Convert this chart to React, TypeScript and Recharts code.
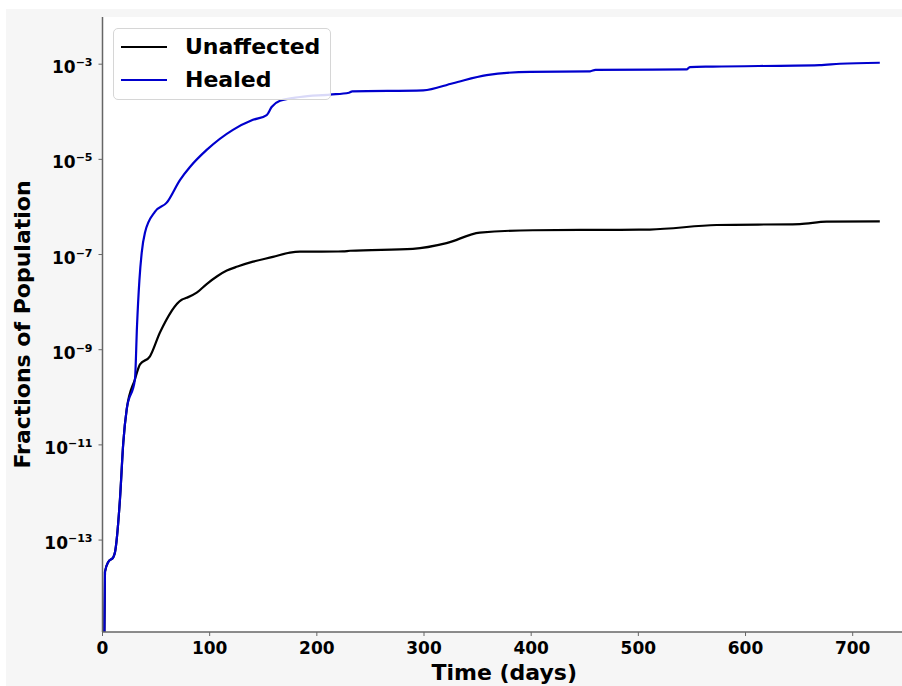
import React from "react";
import { LineChart, Line, XAxis, YAxis, CartesianGrid, Legend } from "recharts";

const sharedDays = [1.3, 2.3, 5.4, 10.1, 11.7, 16.3, 19.4, 22.6, 30.3];
const sharedValues = [1e-16, 2.14e-14, 3.47e-14, 4.37e-14, 5.62e-14, 7.24e-13, 1.12e-11, 5.62e-11, 2.4e-10];

const healedDays = [32.2, 34.4, 36.6, 39.6, 49, 59.9, 72.4, 81.6, 97.2, 121.7, 140.4, 153.2, 157.8, 165.6, 184.2, 212.2, 230, 233, 299.3, 327, 358.4, 398.8, 455, 460, 545, 548, 569.5, 669, 688, 725.3];
const healedValues = [3.16e-9, 2.8e-8, 1.1e-7, 2.88e-7, 7.94e-7, 1.23e-6, 3.72e-6, 6.92e-6, 1.58e-5, 4.17e-5, 6.76e-5, 8.51e-5, 1.26e-4, 1.7e-4, 2.04e-4, 2.29e-4, 2.51e-4, 2.69e-4, 2.82e-4, 3.98e-4, 5.89e-4, 6.92e-4, 7.08e-4, 7.59e-4, 7.76e-4, 8.71e-4, 8.91e-4, 9.55e-4, 1.02e-3, 1.07e-3];

const unaffectedDays = [35, 44.3, 53.6, 73.9, 78.5, 87.9, 97.2, 107, 116, 126, 140.4, 159, 174.9, 184.2, 224.3, 231, 289.6, 321, 352.1, 401.6, 482.7, 510.7, 573, 650.6, 675.6, 725.3];
const unaffectedValues = [4.9e-10, 7.24e-10, 2.29e-9, 1.12e-8, 1.23e-8, 1.58e-8, 2.4e-8, 3.5e-8, 4.6e-8, 5.6e-8, 7.08e-8, 8.91e-8, 1.1e-7, 1.15e-7, 1.16e-7, 1.2e-7, 1.32e-7, 1.74e-7, 2.88e-7, 3.24e-7, 3.31e-7, 3.35e-7, 4.17e-7, 4.37e-7, 4.9e-7, 4.95e-7];

const xTicks = [0, 100, 200, 300, 400, 500, 600, 700];
const yTicks = [1e-13, 1e-11, 1e-9, 1e-7, 1e-5, 1e-3];
const xDomain = [0, 746];
const yDomain = [1.17e-15, 9.8e-3];

const seriesNames = ["Unaffected", "Healed"];
const seriesColors = ["#000000", "#0000cd"];

const build = (days: number[], values: number[]) =>
  sharedDays.map((d, i) => ({ day: d, value: sharedValues[i] })).concat(
    days.map((d, i) => ({ day: d, value: values[i] }))
  );

const unaffectedData = build(unaffectedDays, unaffectedValues);
const healedData = build(healedDays, healedValues);

const FONT = "'DejaVu Sans', sans-serif";
const AXIS_COLOR = "#666666";

const YTick = (props: any) => {
  const { x, y, payload } = props;
  const exp = Math.round(Math.log10(payload.value));
  return (
    <text x={x} y={y} textAnchor="end" fontFamily={FONT} fontWeight="bold" fill="#000">
      <tspan dy={9} fontSize={17}>10</tspan>
      <tspan dy={-7} fontSize={11}>{"\u2212" + Math.abs(exp)}</tspan>
    </text>
  );
};

const LegendContent = () => (
  <div
    style={{
      boxSizing: "border-box",
      width: 218,
      height: 72,
      border: "1px solid #d6d6d6",
      borderRadius: 5,
      background: "rgba(255,255,255,0.85)",
      fontFamily: FONT,
      fontWeight: "bold",
      fontSize: 22,
      color: "#000",
      position: "relative",
    }}
  >
    {seriesNames.map((name, i) => (
      <div key={name} style={{ position: "absolute", left: 0, top: 4 + i * 32.5, height: 28, width: 218 }}>
        <div style={{ position: "absolute", left: 7, top: 13, width: 46, height: 2, background: seriesColors[i] }} />
        <div style={{ position: "absolute", left: 71, top: 0, lineHeight: "28px", whiteSpace: "nowrap" }}>{name}</div>
      </div>
    ))}
  </div>
);

export default function App() {
  return (
    <>
      <style>{"html,body{overflow:hidden;margin:0;padding:0;}"}</style>
      <div style={{ position: "relative", width: 902, height: 686, background: "#ffffff", overflow: "hidden" }}>
        <div style={{ position: "absolute", left: 6, top: 9, width: 896, height: 677, background: "#f6f6f6" }} />
        <div style={{ position: "absolute", left: 8, top: 8, width: 894, height: 678 }}>
          <LineChart width={894} height={678} margin={{ top: 9, right: 0, bottom: 0, left: 0.5 }}>
            <CartesianGrid fill="#ffffff" horizontal={false} vertical={false} />
            <XAxis
              dataKey="day"
              type="number"
              domain={xDomain}
              ticks={xTicks}
              allowDataOverflow
              height={54}
              tickSize={4}
              tickMargin={6}
              stroke={AXIS_COLOR}
              axisLine={{ stroke: AXIS_COLOR, strokeWidth: 1.5 }}
              tickLine={{ stroke: AXIS_COLOR }}
              tick={{ fill: "#000", fontSize: 17, fontWeight: "bold", fontFamily: FONT }}
              label={{
                value: "Time (days)",
                position: "insideBottom",
                offset: 6,
                dx: 2,
                fill: "#000",
                fontSize: 22,
                fontWeight: "bold",
                fontFamily: FONT,
              }}
            />
            <XAxis
              xAxisId="top"
              orientation="top"
              type="number"
              domain={xDomain}
              height={0}
              tick={false}
              tickLine={false}
              axisLine={{ stroke: "#444", strokeWidth: 1.5 }}
            />
            <YAxis
              type="number"
              scale="log"
              domain={yDomain}
              ticks={yTicks}
              allowDataOverflow
              width={94}
              tickSize={4}
              tickMargin={6}
              axisLine={{ stroke: AXIS_COLOR, strokeWidth: 1.5 }}
              tickLine={{ stroke: AXIS_COLOR }}
              tick={<YTick />}
              label={{
                value: "Fractions of Population",
                angle: -90,
                position: "insideLeft",
                offset: 14,
                style: { textAnchor: "middle" },
                fill: "#000",
                fontSize: 22,
                fontWeight: "bold",
                fontFamily: FONT,
              }}
            />
            <Legend
              verticalAlign="middle"
              layout="horizontal"
              wrapperStyle={{ top: 20, left: 105, width: 218, height: 72 }}
              content={<LegendContent />}
            />
            <Line
              data={unaffectedData}
              dataKey="value"
              name={seriesNames[0]}
              type="monotone"
              stroke={seriesColors[0]}
              strokeWidth={2.2}
              dot={false}
              isAnimationActive={false}
            />
            <Line
              data={healedData}
              dataKey="value"
              name={seriesNames[1]}
              type="monotone"
              stroke={seriesColors[1]}
              strokeWidth={2.2}
              dot={false}
              isAnimationActive={false}
            />
          </LineChart>
        </div>
      </div>
    </>
  );
}
